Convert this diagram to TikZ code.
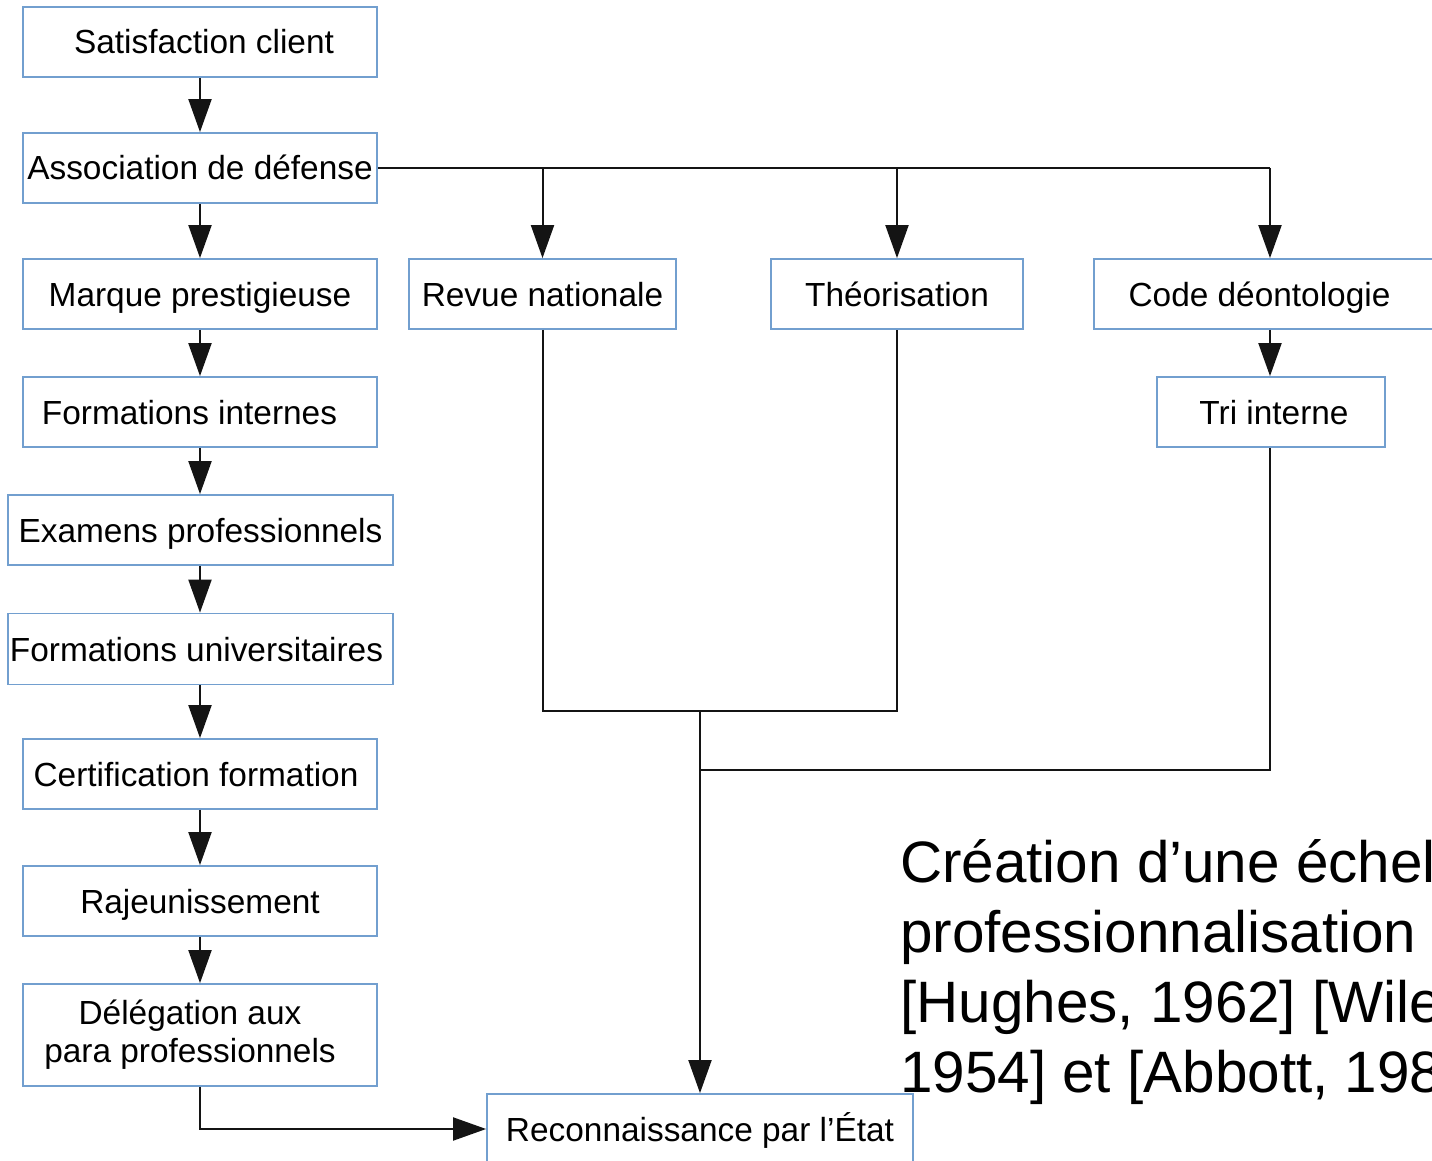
\documentclass[tikz,border=0pt]{standalone}
\usepackage{fontspec}
\setmainfont{Liberation Sans}
\usetikzlibrary{arrows.meta}
\definecolor{boxblue}{RGB}{114,159,207}
\definecolor{lineblk}{RGB}{20,20,20}
\tikzset{
  boxbase/.style={draw=boxblue, line width=1.8pt, fill=white, inner sep=0pt,
    minimum height=70pt, minimum width=354pt, align=center,
    font=\fontsize{33.4}{38}\selectfont},
  box/.style={boxbase, text height=24pt, text depth=0pt},
  conn/.style={draw=lineblk, line width=2pt},
  arr/.style={conn, -{Triangle[length=33pt,width=23pt]}},
  bigtext/.style={anchor=base west, inner sep=0pt, font=\fontsize{58.4}{70}\selectfont}
}
\begin{document}
\begin{tikzpicture}[x=1pt,y=-1pt]
\useasboundingbox (0,0) rectangle (1432,1161);
\clip (0,0) rectangle (1432,1161);
\fill[white] (0,0) rectangle (1432,1161);
% left column
\node[box] (sat) at (200,42) {\hspace*{8pt}Satisfaction client};
\node[box] (asso) at (200,168) {Association de défense};
\node[box] (marque) at (200,294) {Marque prestigieuse};
\node[box] (forint) at (200,412) {\hspace*{-21pt}Formations internes};
\node[box, minimum width=385pt] (exam) at (200.5,530) {Examens professionnels};
\node[box, minimum width=385pt, minimum height=71pt] (foruni) at (200.5,649) {\hspace*{-8pt}Formations universitaires};
\node[box] (cert) at (200,774) {\hspace*{-8pt}Certification formation};
\node[box] (raj) at (200,901) {Rajeunissement};
\node[boxbase, minimum height=102pt] (deleg) at (200,1035) {\hspace*{-20pt}Délégation aux\\[0pt]\hspace*{-20pt}para professionnels};
% top row
\node[box, minimum width=267pt] (revue) at (542.5,294) {Revue nationale};
\node[box, minimum width=252pt] (theo) at (897,294) {Théorisation};
\node[box, minimum width=352pt] (code) at (1270,294) {\hspace*{-21pt}Code déontologie};
\node[box, minimum width=228pt] (tri) at (1271,412) {\hspace*{6pt}Tri interne};
\node[box, minimum width=426pt] (recon) at (700,1129) {Reconnaissance par l’État};
% big text
\node[bigtext] (t1) at (900,882) {Création d’une échel};
\node[bigtext] (t2) at (900,952) {professionnalisation};
\node[bigtext] (t3) at (900,1022) {[Hughes, 1962] [Wile};
\node[bigtext] (t4) at (900,1092) {1954] et [Abbott, 198};
% left chain
\draw[arr] (sat.south) -- (asso.north);
\draw[arr] (asso.south) -- (marque.north);
\draw[arr] (marque.south) -- (forint.north);
\draw[arr] (forint.south) -- (forint.south |- exam.north);
\draw[arr] (exam.south -| forint.south) -- (forint.south |- foruni.north);
\draw[arr] (foruni.south -| forint.south) -- (cert.north);
\draw[arr] (cert.south) -- (raj.north);
\draw[arr] (raj.south) -- (deleg.north);
% top branch
\draw[conn] (asso.east) -- (code.north |- asso.east);
\draw[arr] (revue.north |- asso.east) -- (revue.north);
\draw[arr] (theo.north |- asso.east) -- (theo.north);
\draw[arr] (code.north |- asso.east) -- (code.north);
\draw[arr] (code.south) -- (code.south |- tri.north);
% convergence
\coordinate (j1) at (700,711);
\coordinate (j2) at (700,770);
\draw[conn] (revue.south) |- (j1) -| (theo.south);
\draw[conn] (code.south |- tri.south) |- (j2);
\draw[arr] (j1) -- (recon.north);
\draw[arr] (deleg.south) |- (recon.west);
\end{tikzpicture}
\end{document}
